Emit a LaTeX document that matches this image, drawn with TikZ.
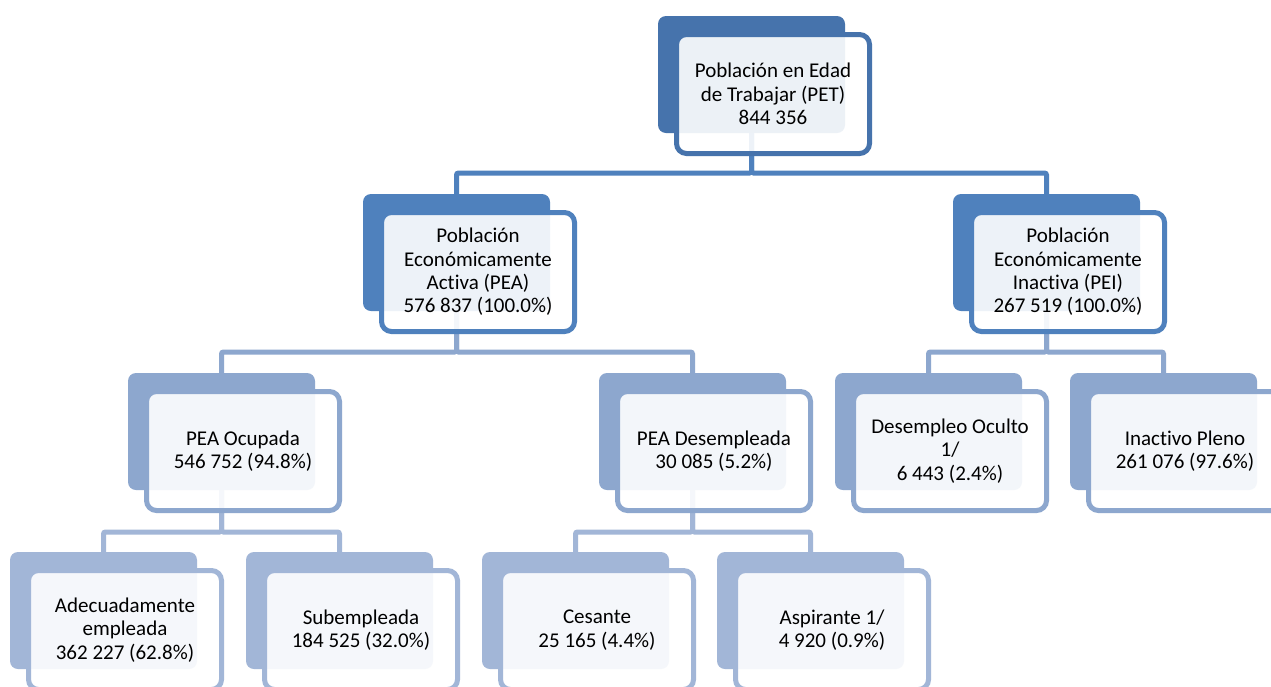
\documentclass[tikz,border=0pt]{standalone}
\usepackage{fontspec}
\setmainfont{Carlito}[Ligatures={NoCommon}]
\pgfdeclarelayer{bg}
\pgfsetlayers{bg,main}
\definecolor{c0}{RGB}{70,115,172}
\definecolor{c1}{RGB}{79,129,189}
\definecolor{c2}{RGB}{141,167,206}
\definecolor{c3}{RGB}{162,182,215}
\tikzset{
  backbox/.style={rectangle, rounded corners=8pt, draw=none, minimum width=187pt, minimum height=117pt, inner sep=0pt, outer sep=0pt},
  framebox/.style={rectangle, rounded corners=10pt, line width=5pt, fill=white, fill opacity=0.9, text opacity=1, minimum width=193pt, minimum height=119pt, inner sep=0pt, outer sep=0pt, align=center, font=\fontsize{21}{23.4}\selectfont, text=black},
  conn/.style={line width=5pt, rounded corners=2pt}
}
\newcommand\smnode[5]{%
  \node[backbox, fill=#4] (#1) at (#2+93.5, #3+58.5) {};
  \node[framebox, draw=#4] (#1f) at (#2+115, #3+78) {#5};
}
\begin{document}
\begin{tikzpicture}[x=1pt,y=-1pt]
\useasboundingbox (0,0) rectangle (1271,686);
\clip (0,0) rectangle (1271,686);
\smnode{pet}{658}{16}{c0}{Población en Edad\\de Trabajar (PET)\\844 356}
\smnode{pea}{363}{194}{c1}{Población\\Económicamente\\Activa (PEA)\\576 837 (100.0\%)}
\smnode{pei}{953}{194}{c1}{Población\\Económicamente\\Inactiva (PEI)\\267 519 (100.0\%)}
\smnode{ocu}{128}{373}{c2}{PEA Ocupada\\546 752 (94.8\%)}
\smnode{des}{599}{373}{c2}{PEA Desempleada\\30 085 (5.2\%)}
\smnode{ocl}{835}{373}{c2}{Desempleo Oculto\\1/\\6 443 (2.4\%)}
\smnode{ple}{1070}{373}{c2}{Inactivo Pleno\\261 076 (97.6\%)}
\smnode{ade}{10}{552}{c3}{Adecuadamente\\empleada\\362 227 (62.8\%)}
\smnode{sub}{246}{552}{c3}{Subempleada\\184 525 (32.0\%)}
\smnode{ces}{482}{552}{c3}{Cesante\\25 165 (4.4\%)}
\smnode{asp}{717}{552}{c3}{Aspirante 1/\\4 920 (0.9\%)}
\begin{pgfonlayer}{bg}
\fill[white] (0,0) rectangle (1271,686);
\draw[conn, draw=c1] (pet.south) -- ++(0,40) -| (pea.north);
\draw[conn, draw=c1] (pet.south) -- ++(0,40) -| (pei.north);
\draw[conn, draw=c2] (pea.south) -- ++(0,41) -| (ocu.north);
\draw[conn, draw=c2] (pea.south) -- ++(0,41) -| (des.north);
\draw[conn, draw=c2] (pei.south) -- ++(0,41) -| (ocl.north);
\draw[conn, draw=c2] (pei.south) -- ++(0,41) -| (ple.north);
\draw[conn, draw=c3] (ocu.south) -- ++(0,42) -| (ade.north);
\draw[conn, draw=c3] (ocu.south) -- ++(0,42) -| (sub.north);
\draw[conn, draw=c3] (des.south) -- ++(0,42) -| (ces.north);
\draw[conn, draw=c3] (des.south) -- ++(0,42) -| (asp.north);
\end{pgfonlayer}
\end{tikzpicture}
\end{document}
